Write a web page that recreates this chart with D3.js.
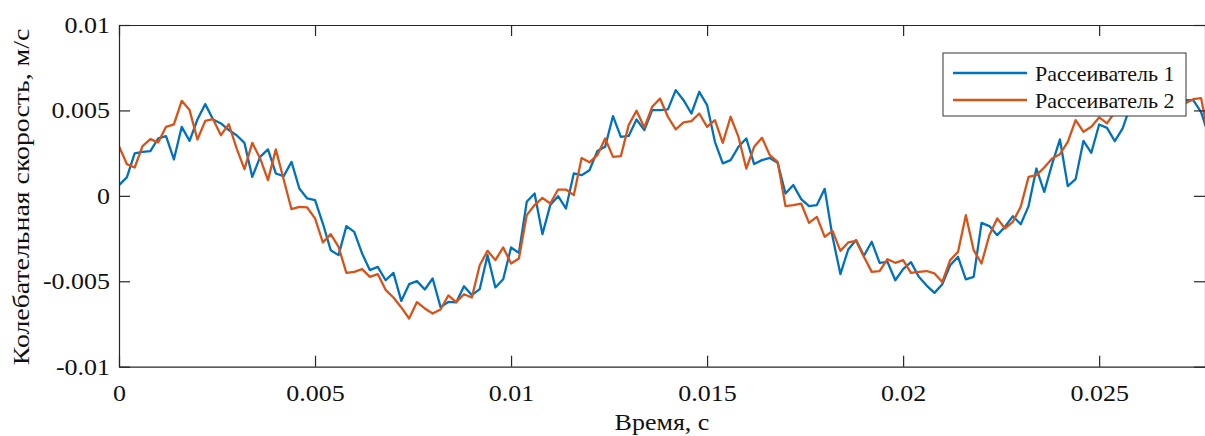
<!DOCTYPE html>
<html>
<head>
<meta charset="utf-8">
<script src="https://cdn.jsdelivr.net/npm/d3@7"></script>
<style>
  html, body { margin: 0; padding: 0; background: #fff; }
  svg { display: block; }
  svg text { font-family: "Liberation Serif", "Times New Roman", serif; }
</style>
</head>
<body>
<svg id="chart" width="1205" height="436"></svg>
<script>
// Sampling step of both records, s
const dt = 0.0002;

// Vibration velocity, m/s — scatterer 1
const scatterer1 = [
  0.00063, 0.00108, 0.00248, 0.00258, 0.00262, 0.00336, 0.00350, 0.00213, 0.00404, 0.00322,
  0.00447, 0.00537, 0.00447, 0.00424, 0.00385, 0.00355, 0.00310, 0.00111, 0.00228, 0.00272,
  0.00131, 0.00115, 0.00199, 0.00043, -0.00015, -0.00025, -0.00162, -0.00318, -0.00347, -0.00177,
  -0.00211, -0.00337, -0.00435, -0.00416, -0.00494, -0.00451, -0.00615, -0.00517, -0.00499, -0.00548,
  -0.00484, -0.00650, -0.00621, -0.00624, -0.00529, -0.00581, -0.00546, -0.00347, -0.00536, -0.00488,
  -0.00302, -0.00334, -0.00035, 0.00014, -0.00224, -0.00054, -0.00002, -0.00074, 0.00131, 0.00121,
  0.00150, 0.00262, 0.00287, 0.00467, 0.00345, 0.00351, 0.00447, 0.00385, 0.00502, 0.00502,
  0.00506, 0.00619, 0.00560, 0.00482, 0.00609, 0.00531, 0.00316, 0.00190, 0.00209, 0.00287,
  0.00336, 0.00186, 0.00209, 0.00222, 0.00193, 0.00014, 0.00063, -0.00019, -0.00060, -0.00054,
  0.00041, -0.00240, -0.00458, -0.00314, -0.00259, -0.00351, -0.00269, -0.00392, -0.00386, -0.00494,
  -0.00429, -0.00388, -0.00474, -0.00525, -0.00568, -0.00517, -0.00406, -0.00357, -0.00489, -0.00474,
  -0.00158, -0.00177, -0.00230, -0.00181, -0.00119, -0.00166, -0.00060, 0.00160, 0.00023, 0.00186,
  0.00330, 0.00057, 0.00098, 0.00322, 0.00252, 0.00418, 0.00398, 0.00320, 0.00395, 0.00530,
  0.00570, 0.00510, 0.00590, 0.00540, 0.00580, 0.00550, 0.00560, 0.00560, 0.00490, 0.00350
];

// Vibration velocity, m/s — scatterer 2
const scatterer2 = [
  0.00291, 0.00186, 0.00166, 0.00291, 0.00332, 0.00313, 0.00404, 0.00418, 0.00556, 0.00502,
  0.00330, 0.00439, 0.00449, 0.00355, 0.00420, 0.00278, 0.00156, 0.00310, 0.00219, 0.00092,
  0.00272, 0.00096, -0.00078, -0.00064, -0.00068, -0.00132, -0.00273, -0.00224, -0.00299, -0.00451,
  -0.00445, -0.00429, -0.00474, -0.00458, -0.00550, -0.00595, -0.00653, -0.00718, -0.00622, -0.00659,
  -0.00689, -0.00665, -0.00583, -0.00622, -0.00576, -0.00595, -0.00406, -0.00322, -0.00376, -0.00302,
  -0.00396, -0.00367, -0.00113, -0.00054, -0.00012, -0.00045, 0.00037, 0.00037, 0.00004, 0.00222,
  0.00196, 0.00238, 0.00336, 0.00228, 0.00232, 0.00414, 0.00498, 0.00400, 0.00521, 0.00570,
  0.00463, 0.00389, 0.00430, 0.00437, 0.00482, 0.00404, 0.00443, 0.00310, 0.00463, 0.00345,
  0.00160, 0.00287, 0.00340, 0.00238, 0.00199, -0.00060, -0.00054, -0.00045, -0.00158, -0.00123,
  -0.00240, -0.00205, -0.00322, -0.00273, -0.00263, -0.00357, -0.00445, -0.00441, -0.00371, -0.00392,
  -0.00376, -0.00451, -0.00445, -0.00440, -0.00454, -0.00504, -0.00376, -0.00328, -0.00113, -0.00318,
  -0.00396, -0.00230, -0.00132, -0.00191, -0.00152, -0.00064, 0.00111, 0.00121, 0.00166, 0.00219,
  0.00244, 0.00316, 0.00443, 0.00375, 0.00404, 0.00459, 0.00424, 0.00490, 0.00520, 0.00560,
  0.00530, 0.00580, 0.00550, 0.00590, 0.00560, 0.00540, 0.00542, 0.00566, 0.00572, 0.00338
];

const seriesNames = ["Рассеиватель 1", "Рассеиватель 2"];
const seriesColors = ["#0072BD", "#D95319"];

const xTicks = [0, 0.005, 0.01, 0.015, 0.02, 0.025];
const xTickLabels = ["0", "0.005", "0.01", "0.015", "0.02", "0.025"];
const yTicks = [-0.01, -0.005, 0, 0.005, 0.01];
const yTickLabels = ["-0.01", "-0.005", "0", "0.005", "0.01"];

const xTitle = "Время, с";
const yTitle = "Колебательная скорость, м/с";

// Layout
const margin = { top: 25, left: 119 };
const plotW = 1086, plotH = 341.7;
const axisColor = "#262626";
const textColor = "#111";
const fontFamily = '"Liberation Serif", "Times New Roman", serif';
const labelSize = 23;
const labelStretch = 1.13;

const svg = d3.select("#chart");
const g = svg.append("g").attr("transform", `translate(${margin.left},${margin.top})`);

const x = d3.scaleLinear().domain([0, 0.0277]).range([0, plotW]);
const y = d3.scaleLinear().domain([-0.01, 0.01]).range([plotH, 0]);

svg.append("defs").append("clipPath").attr("id", "plot-clip")
  .append("rect").attr("width", plotW).attr("height", plotH);

// Widen axis text horizontally about its anchor point
function stretch(sel, sx) {
  sel.each(function () {
    const t = d3.select(this);
    const x0 = +t.attr("x") || 0;
    t.attr("transform", `translate(${x0},0) scale(${sx},1) translate(${-x0},0)`);
  });
}

// Lines
const line = d3.line().x((d, i) => x(i * dt)).y(d => y(d));
const plotArea = g.append("g").attr("clip-path", "url(#plot-clip)");
[scatterer1, scatterer2].forEach((s, i) => {
  plotArea.append("path")
    .datum(s)
    .attr("fill", "none")
    .attr("stroke", seriesColors[i])
    .attr("stroke-width", 2.3)
    .attr("stroke-linejoin", "round")
    .attr("d", line);
});

// Axes (ticks point inward on all four sides)
function styleAxis(ax) {
  ax.attr("font-family", null).attr("font-size", null);
  ax.select(".domain").attr("stroke", axisColor).attr("stroke-width", 1.2);
  ax.selectAll(".tick line").attr("stroke", axisColor).attr("stroke-width", 1.2);
  ax.selectAll(".tick text")
    .attr("fill", textColor)
    .style("font-family", fontFamily)
    .style("font-size", labelSize + "px");
}

const xAxis = g.append("g").attr("transform", `translate(0,${plotH})`)
  .call(d3.axisBottom(x).tickValues(xTicks).tickFormat((d, i) => xTickLabels[i])
    .tickSizeInner(-11).tickSizeOuter(0).tickPadding(18));
styleAxis(xAxis);
stretch(xAxis.selectAll(".tick text"), labelStretch);

const yAxis = g.append("g")
  .call(d3.axisLeft(y).tickValues(yTicks).tickFormat((d, i) => yTickLabels[i])
    .tickSizeInner(-11).tickSizeOuter(0).tickPadding(9));
styleAxis(yAxis);
yAxis.selectAll(".tick text").attr("x", -9);
stretch(yAxis.selectAll(".tick text"), labelStretch);

const topAxis = g.append("g")
  .call(d3.axisTop(x).tickValues(xTicks).tickFormat("").tickSizeInner(-11).tickSizeOuter(0));
styleAxis(topAxis);

const rightAxis = g.append("g").attr("transform", `translate(${plotW},0)`)
  .call(d3.axisRight(y).tickValues(yTicks).tickFormat("").tickSizeInner(-11).tickSizeOuter(0));
styleAxis(rightAxis);

// Axis titles
const xTitleX = margin.left + plotW / 2;
svg.append("text")
  .attr("x", xTitleX).attr("y", 430)
  .attr("text-anchor", "middle").attr("fill", textColor)
  .style("font-size", labelSize + "px")
  .attr("transform", `translate(${xTitleX},0) scale(${labelStretch},1) translate(${-xTitleX},0)`)
  .text(xTitle);

svg.append("text")
  .attr("transform", `translate(29,197) rotate(-90) scale(1.16,1)`)
  .attr("text-anchor", "middle").attr("fill", textColor)
  .style("font-size", "24px")
  .text(yTitle);

// Legend
const legend = svg.append("g").attr("transform", "translate(943,53)");
legend.append("rect")
  .attr("width", 243).attr("height", 63)
  .attr("fill", "#fff").attr("stroke", "#333").attr("stroke-width", 1);
seriesNames.forEach((name, i) => {
  const ly = 20 + i * 27;
  legend.append("line")
    .attr("x1", 10).attr("x2", 84).attr("y1", ly).attr("y2", ly)
    .attr("stroke", seriesColors[i]).attr("stroke-width", 2.3);
  legend.append("text")
    .attr("x", 92).attr("y", ly).attr("dy", "0.35em")
    .attr("fill", textColor).style("font-size", "22px")
    .text(name);
});
</script>
</body>
</html>
